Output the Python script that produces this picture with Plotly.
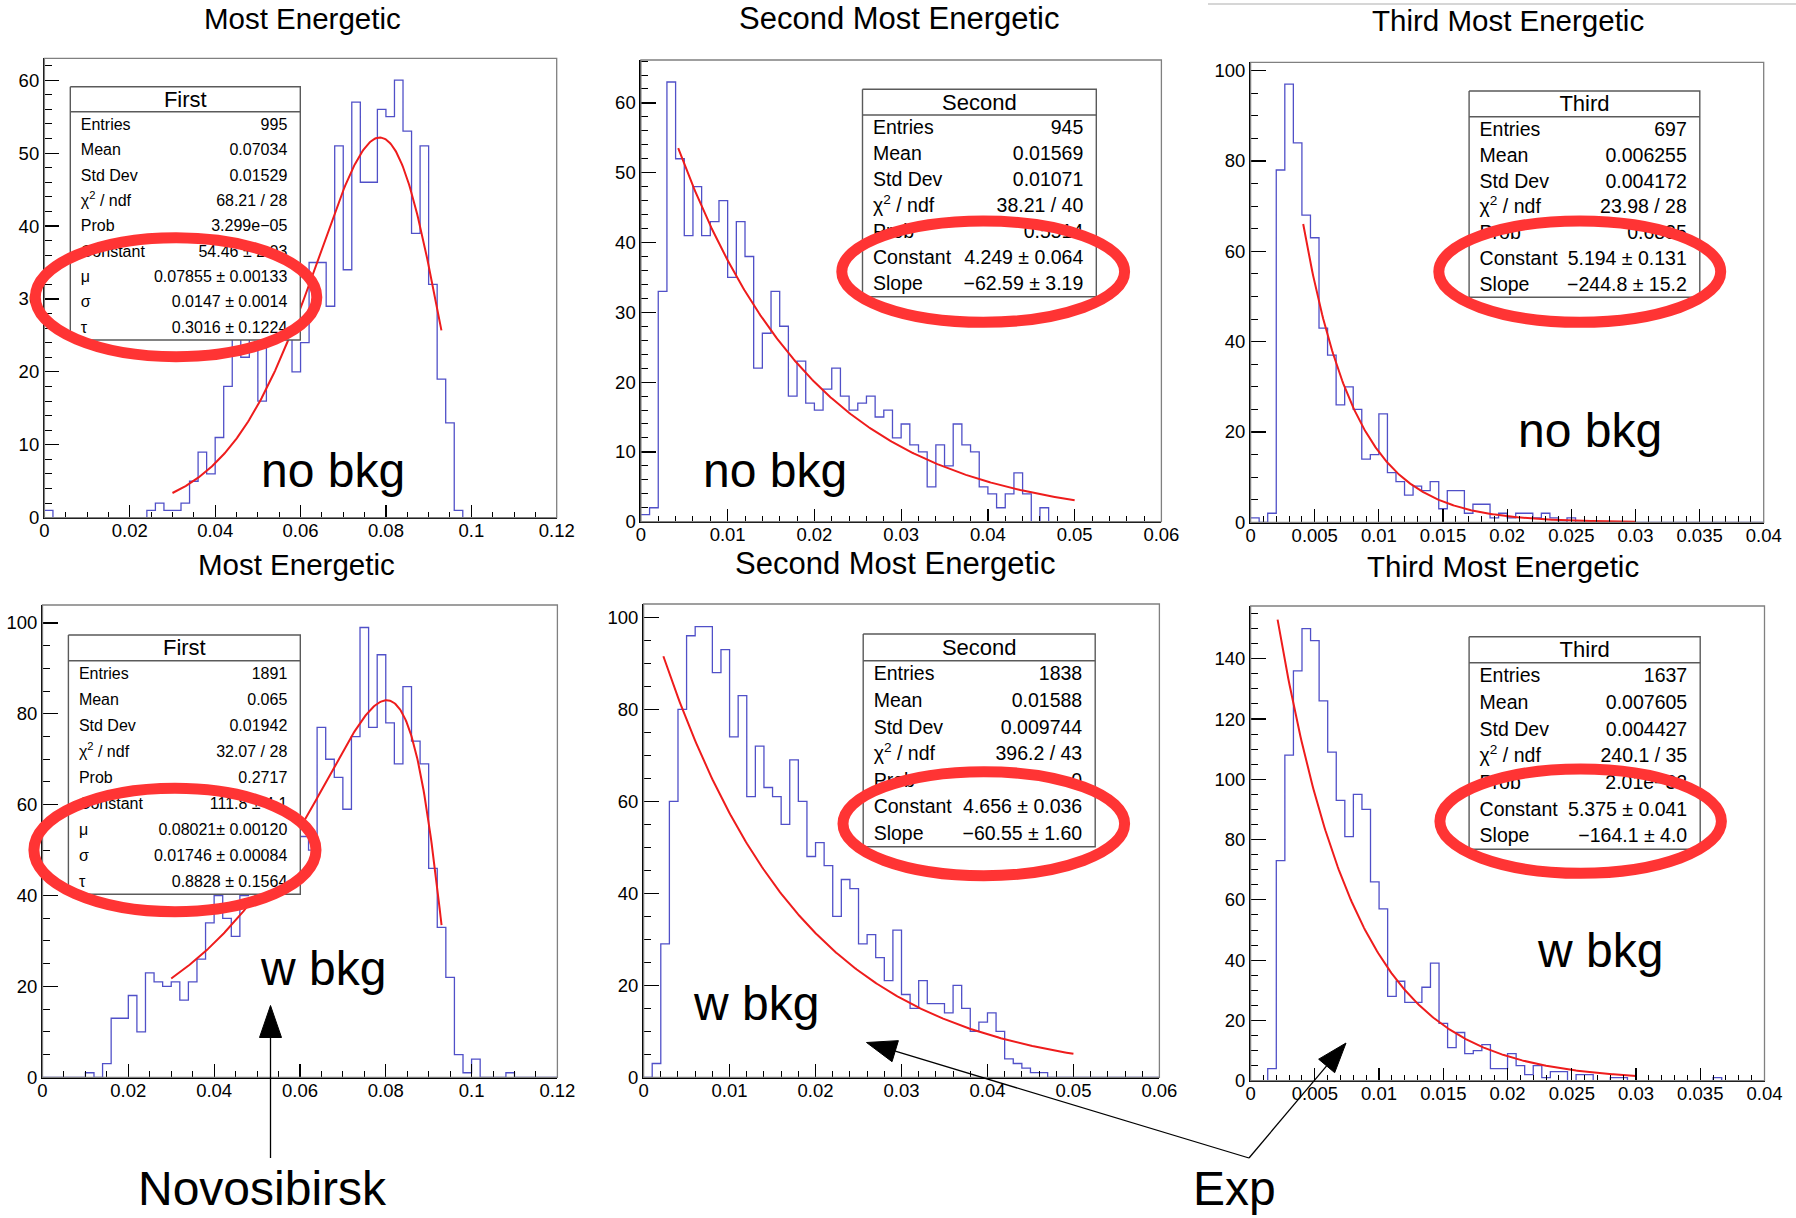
import numpy as np
import plotly.graph_objects as go

W, H = 1796, 1218
FONT = "Liberation Sans, Arial, Helvetica, sans-serif"

# ---------------- histogram contents (60 equal bins per histogram) ----------------
first_nobkg = [1, 0, 0, 0, 0, 0, 0, 0, 0, 0, 0, 0, 1, 2, 1, 1, 2, 5, 9, 6,
               11, 18, 26, 22, 27, 16, 31, 30, 30, 20, 24, 35, 35, 29, 51, 34, 57, 46, 46, 56,
               55, 60, 53, 39, 51, 32, 19, 13, 1, 0, 0, 0, 0, 0, 0, 0, 0, 0, 0, 0]
second_nobkg = [1, 2, 33, 63, 52, 41, 48, 41, 43, 46, 35, 43, 38, 22, 27, 33, 28, 18, 23, 17,
                16, 19, 22, 18, 16, 17, 18, 15, 16, 12, 14, 11, 10, 5, 11, 8, 14, 11, 10, 5,
                4, 2, 4, 7, 4, 0, 2, 0, 0, 0, 0, 0, 0, 0, 0, 0, 0, 0, 0, 0]
third_nobkg = [1, 0, 2, 78, 97, 84, 68, 63, 43, 37, 26, 30, 25, 14, 15, 24, 11, 9, 6, 8,
               7, 9, 3, 7, 7, 2, 4, 4, 1, 2, 1, 2, 2, 1, 2, 1, 0, 1, 0, 0,
               0, 0, 0, 0, 0, 0, 0, 0, 0, 0, 0, 0, 0, 0, 0, 0, 0, 0, 0, 0]
first_wbkg = [0, 0, 0, 0, 0, 1, 0, 3, 13, 13, 18, 10, 23, 21, 20, 21, 17, 21, 26, 34,
              40, 35, 31, 40, 44, 47, 50, 48, 55, 53, 53, 50, 77, 70, 66, 59, 75, 99, 77, 93,
              78, 69, 86, 74, 69, 46, 33, 22, 5, 1, 4, 0, 0, 0, 1, 0, 0, 0, 0, 0]
second_wbkg = [0, 3, 29, 60, 80, 96, 98, 98, 88, 93, 74, 83, 61, 72, 63, 61, 55, 69, 60, 48,
               51, 46, 35, 43, 41, 29, 31, 26, 21, 32, 18, 15, 21, 16, 16, 14, 20, 15, 10, 12,
               14, 10, 4, 3, 2, 1, 1, 0, 0, 0, 0, 0, 0, 0, 0, 0, 0, 0, 0, 0]
third_wbkg = [0, 0, 4, 73, 108, 136, 150, 146, 126, 109, 93, 81, 95, 90, 66, 57, 28, 33, 26, 26,
              31, 39, 19, 11, 16, 9, 10, 12, 4, 4, 9, 5, 2, 5, 1, 3, 3, 0, 2, 2,
              0, 0, 1, 1, 0, 0, 0, 0, 0, 0, 0, 0, 0, 0, 1, 0, 0, 0, 0, 0]

# ---------------- fit results (as printed in the stat boxes) ----------------
nov_nobkg = [54.46, 0.07855, 0.0147, 0.3016]     # Constant, mu, sigma, tau
nov_wbkg = [111.8, 0.08021, 0.01746, 0.8828]
exp_second_nobkg = [4.249, -62.59]                # Constant, Slope
exp_third_nobkg = [5.194, -244.8]
exp_second_wbkg = [4.656, -60.55]
exp_third_wbkg = [5.375, -164.1]

fit_range_first = [0.03, 0.093]
fit_range_second_nobkg = [0.0043, 0.05]
fit_range_third_nobkg = [0.0041, 0.03]
fit_range_second_wbkg = [0.0023, 0.05]
fit_range_third_wbkg = [0.0021, 0.03]

# ---------------- stat box texts ----------------
labels_nov = ["Entries", "Mean", "Std Dev", "\u03c7<sup>2</sup> / ndf", "Prob",
              "Constant", "\u03bc", "\u03c3", "\u03c4"]
labels_exp = ["Entries", "Mean", "Std Dev", "\u03c7<sup>2</sup> / ndf", "Prob",
              "Constant", "Slope"]
stats_first_nobkg = ["995", "0.07034", "0.01529", "68.21 / 28", "3.299e\u221205",
                     "54.46 \u00b1 2.03", "0.07855 \u00b1 0.00133", "0.0147 \u00b1 0.0014",
                     "0.3016 \u00b1 0.1224"]
stats_second_nobkg = ["945", "0.01569", "0.01071", "38.21 / 40", "0.5514",
                      "4.249 \u00b1 0.064", "\u221262.59 \u00b1 3.19"]
stats_third_nobkg = ["697", "0.006255", "0.004172", "23.98 / 28", "0.6835",
                     "5.194 \u00b1 0.131", "\u2212244.8 \u00b1 15.2"]
stats_first_wbkg = ["1891", "0.065", "0.01942", "32.07 / 28", "0.2717",
                    "111.8 \u00b1 4.1", "0.08021\u00b1 0.00120", "0.01746 \u00b1 0.00084",
                    "0.8828 \u00b1 0.1564"]
stats_second_wbkg = ["1838", "0.01588", "0.009744", "396.2 / 43", "0",
                     "4.656 \u00b1 0.036", "\u221260.55 \u00b1 1.60"]
stats_third_wbkg = ["1637", "0.007605", "0.004427", "240.1 / 35", "2.01e\u221232",
                    "5.375 \u00b1 0.041", "\u2212164.1 \u00b1 4.0"]

titles = ["Most Energetic", "Second Most Energetic", "Third Most Energetic"]
box_names = ["First", "Second", "Third"]
tags = ["no bkg", "w bkg"]


def novosibirsk(x, norm, peak, width, eta):
    xi = 2.0 * np.sqrt(np.log(4.0))
    w0 = (2.0 / xi) * np.arcsinh(eta * xi * 0.5)
    arg = 1.0 - (x - peak) * eta / width
    lg = np.log(arg)
    return norm * np.exp(-0.5 * lg * lg / (w0 * w0) - 0.5 * w0 * w0)


def expo(x, c, s):
    return np.exp(c + s * x)


# ---------------- panel layout (pixel frame of each plot area) ----------------
panels = [
    dict(counts=first_nobkg, xmax=0.12, dx=0.02, mdx=0.005, dy=10, mdy=2,
         fx=(44.4, 556.7), fy=(58.3, 517.7),
         fit=("nov", nov_nobkg, fit_range_first),
         box=dict(L=70.3, R=300.3, T=86.7, Hd=111.7, B=340.0), name=box_names[0],
         labels=labels_nov, stats=stats_first_nobkg, fs=16,
         ell=(35.3, 316.8, 237.7, 356.7),
         title=(titles[0], 302, 18, 29.5), tag=(tags[0], 333, 470)),
    dict(counts=second_nobkg, xmax=0.06, dx=0.01, mdx=0.002, dy=10, mdy=2,
         fx=(640.9, 1161.4), fy=(60.0, 521.7),
         fit=("exp", exp_second_nobkg, fit_range_second_nobkg),
         box=dict(L=862.5, R=1096.3, T=89.3, Hd=115.0, B=296.7), name=box_names[1],
         labels=labels_exp, stats=stats_second_nobkg, fs=19.5,
         ell=(841.8, 1124.6, 221.0, 322.3),
         title=(titles[1], 899, 18, 31), tag=(tags[0], 775, 470)),
    dict(counts=third_nobkg, xmax=0.04, dx=0.005, mdx=0.001, dy=20, mdy=5,
         fx=(1250.6, 1763.7), fy=(62.3, 522.3),
         fit=("exp", exp_third_nobkg, fit_range_third_nobkg),
         box=dict(L=1469.1, R=1699.8, T=91.0, Hd=116.7, B=297.3), name=box_names[2],
         labels=labels_exp, stats=stats_third_nobkg, fs=19.5,
         ell=(1438.8, 1720.7, 221.0, 322.3),
         title=(titles[2], 1508, 20, 29.5), tag=(tags[0], 1590, 430)),
    dict(counts=first_wbkg, xmax=0.12, dx=0.02, mdx=0.005, dy=20, mdy=5,
         fx=(42.5, 557.4), fy=(605.0, 1077.3),
         fit=("nov", nov_wbkg, fit_range_first),
         box=dict(L=68.4, R=300.3, T=635.0, Hd=660.7, B=894.3), name=box_names[0],
         labels=labels_nov, stats=stats_first_wbkg, fs=16,
         ell=(33.9, 316.0, 788.3, 911.7),
         title=(titles[0], 296, 564, 29.5), tag=(tags[1], 323, 968)),
    dict(counts=second_wbkg, xmax=0.06, dx=0.01, mdx=0.002, dy=20, mdy=5,
         fx=(643.6, 1159.4), fy=(604.0, 1077.3),
         fit=("exp", exp_second_wbkg, fit_range_second_wbkg),
         box=dict(L=863.2, R=1095.2, T=634.0, Hd=660.7, B=846.7), name=box_names[1],
         labels=labels_exp, stats=stats_second_wbkg, fs=19.5,
         ell=(843.0, 1124.6, 771.7, 875.7),
         title=(titles[1], 895, 563, 31), tag=(tags[1], 756, 1003)),
    dict(counts=third_wbkg, xmax=0.04, dx=0.005, mdx=0.001, dy=20, mdy=5,
         fx=(1250.6, 1764.5), fy=(606.0, 1080.7),
         fit=("exp", exp_third_wbkg, fit_range_third_wbkg),
         box=dict(L=1469.1, R=1700.2, T=636.7, Hd=662.7, B=849.3), name=box_names[2],
         labels=labels_exp, stats=stats_third_wbkg, fs=19.5,
         ell=(1439.9, 1721.4, 769.0, 873.3),
         title=(titles[2], 1503, 566, 29.5), tag=(tags[1], 1600, 950)),
]

HIST_COLOR = "#5050c8"
FIT_COLOR = "#ee1c1c"
RING_COLOR = "#ff3434"

fig = go.Figure()
layout = dict(width=W, height=H, margin=dict(l=0, r=0, t=0, b=0, pad=0, autoexpand=False),
              paper_bgcolor="white", plot_bgcolor="rgba(0,0,0,0)", showlegend=False)
shapes = []
annotations = []

for k, p in enumerate(panels, start=1):
    xa = "x" if k == 1 else f"x{k}"
    ya = "y" if k == 1 else f"y{k}"
    counts = np.array(p["counts"], dtype=float)
    nb = len(counts)
    edges = np.linspace(0.0, p["xmax"], nb + 1)
    ys = np.append(counts, counts[-1])
    fig.add_trace(go.Scatter(x=edges, y=ys, mode="lines", line_shape="hv",
                             line=dict(color=HIST_COLOR, width=1.3),
                             xaxis=xa, yaxis=ya, hoverinfo="skip"))
    kind, pars, rng = p["fit"]
    xf = np.linspace(rng[0], rng[1], 300)
    yf = novosibirsk(xf, *pars) if kind == "nov" else expo(xf, *pars)
    fig.add_trace(go.Scatter(x=xf, y=yf, mode="lines",
                             line=dict(color=FIT_COLOR, width=2),
                             xaxis=xa, yaxis=ya, hoverinfo="skip"))

    ymax = 1.05 * counts.max()
    axis_common = dict(showgrid=False, zeroline=False, showline=True, linecolor="black",
                       linewidth=1.5, ticks="inside", tickcolor="black", automargin=False,
                       tickfont=dict(family=FONT, size=18.5, color="black"),
                       fixedrange=True)
    layout["xaxis" if k == 1 else f"xaxis{k}"] = dict(
        axis_common, domain=[p["fx"][0] / W, p["fx"][1] / W], range=[0, p["xmax"]],
        anchor=ya, tick0=0, dtick=p["dx"], ticklen=13, tickwidth=1.2,
        ticklabelstandoff=-4,
        minor=dict(dtick=p["mdx"], tick0=0, ticks="inside", ticklen=6,
                   tickcolor="black", tickwidth=1))
    layout["yaxis" if k == 1 else f"yaxis{k}"] = dict(
        axis_common, domain=[1 - p["fy"][1] / H, 1 - p["fy"][0] / H], range=[0, ymax],
        anchor=xa, tick0=0, dtick=p["dy"], ticklen=15, tickwidth=1.2,
        minor=dict(dtick=p["mdy"], tick0=0, ticks="inside", ticklen=7.5,
                   tickcolor="black", tickwidth=1))
    # grey frame around the plot area
    shapes.append(dict(type="rect", xref=f"{xa} domain", yref=f"{ya} domain",
                       x0=0, x1=1, y0=0, y1=1, line=dict(color="#808080", width=1.3),
                       layer="above"))

# overlay subplot in page pixels for the stat boxes
layout["xaxis7"] = dict(domain=[0, 1], range=[0, W], visible=False, anchor="y7",
                        fixedrange=True, automargin=False)
layout["yaxis7"] = dict(domain=[0, 1], range=[H, 0], visible=False, anchor="x7",
                        fixedrange=True, automargin=False)

for p in panels:
    b = p["box"]
    fig.add_trace(go.Scatter(x=[b["L"], b["R"], b["R"], b["L"], b["L"]],
                             y=[b["T"], b["T"], b["B"], b["B"], b["T"]],
                             mode="lines", fill="toself", fillcolor="white",
                             line=dict(color="#5a5a5a", width=1.4),
                             xaxis="x7", yaxis="y7", hoverinfo="skip"))
    fig.add_trace(go.Scatter(x=[b["L"], b["R"]], y=[b["Hd"], b["Hd"]], mode="lines",
                             line=dict(color="#5a5a5a", width=1.4),
                             xaxis="x7", yaxis="y7", hoverinfo="skip"))
    fig.add_trace(go.Scatter(x=[(b["L"] + b["R"]) / 2], y=[(b["T"] + b["Hd"]) / 2 + 2],
                             mode="text", text=[p["name"]], textposition="middle center",
                             textfont=dict(family=FONT, size=22, color="black"),
                             xaxis="x7", yaxis="y7", hoverinfo="skip"))
    n = len(p["labels"])
    step = (b["B"] - b["Hd"]) / n
    rows = [b["Hd"] + step * (i + 0.5) + 1.5 for i in range(n)]
    fig.add_trace(go.Scatter(x=[b["L"] + 10.5] * n, y=rows, mode="text", text=p["labels"],
                             textposition="middle right",
                             textfont=dict(family=FONT, size=p["fs"], color="black"),
                             xaxis="x7", yaxis="y7", hoverinfo="skip"))
    fig.add_trace(go.Scatter(x=[b["R"] - 13] * n, y=rows, mode="text", text=p["stats"],
                             textposition="middle left",
                             textfont=dict(family=FONT, size=p["fs"], color="black"),
                             xaxis="x7", yaxis="y7", hoverinfo="skip"))
    # red ring drawn around the fit parameters
    x0, x1, y0, y1 = p["ell"]
    shapes.append(dict(type="circle", xref="x7", yref="y7", x0=x0, x1=x1, y0=y0, y1=y1,
                       line=dict(color=RING_COLOR, width=11), layer="above"))
    t, tx, ty, ts = p["title"]
    annotations.append(dict(text=t, x=tx, y=ty, xref="x7", yref="y7", showarrow=False,
                            xanchor="center", yanchor="middle",
                            font=dict(family=FONT, size=ts, color="black")))
    t, tx, ty = p["tag"]
    annotations.append(dict(text=t, x=tx, y=ty, xref="x7", yref="y7", showarrow=False,
                            xanchor="center", yanchor="middle",
                            font=dict(family=FONT, size=48, color="black")))

# arrows pointing from the fit-model names to the curves
arrows = [
    ((270.5, 1158.0), (270.5, 1005.5), 32, 22),
    ((1249.0, 1158.0), (866.5, 1042.5), 30, 22),
    ((1249.0, 1158.0), (1346.0, 1043.0), 30, 21),
]
for (tx0, ty0), (hx, hy), hl, hw in arrows:
    d = np.array([hx - tx0, hy - ty0])
    u = d / np.linalg.norm(d)
    nrm = np.array([-u[1], u[0]])
    base = np.array([hx, hy]) - u * hl
    a = base + nrm * hw / 2
    c = base - nrm * hw / 2
    shapes.append(dict(type="line", xref="x7", yref="y7", x0=tx0, y0=ty0,
                       x1=base[0], y1=base[1], line=dict(color="black", width=1.3),
                       layer="above"))
    shapes.append(dict(type="path", xref="x7", yref="y7",
                       path=f"M{hx},{hy} L{a[0]},{a[1]} L{c[0]},{c[1]} Z",
                       fillcolor="black", line=dict(color="black", width=1), layer="above"))

annotations.append(dict(text="Novosibirsk", x=262, y=1188, xref="x7", yref="y7",
                        showarrow=False, xanchor="center", yanchor="middle",
                        font=dict(family=FONT, size=48, color="black")))
annotations.append(dict(text="Exp", x=1234, y=1188, xref="x7", yref="y7",
                        showarrow=False, xanchor="center", yanchor="middle",
                        font=dict(family=FONT, size=48, color="black")))

# thin grey rule at the top right of the page
shapes.append(dict(type="line", xref="x7", yref="y7", x0=1208, x1=W, y0=4, y1=4,
                   line=dict(color="#d6d6d6", width=2), layer="above"))

layout["shapes"] = shapes
layout["annotations"] = annotations
fig.update_layout(**layout)

# keep the page exactly the size of the figure (no body margin, no scrollbars)
page_css = ("document.documentElement.style.margin='0';"
            "document.body.style.margin='0';document.body.style.padding='0';"
            "document.documentElement.style.overflow='hidden';"
            "document.body.style.overflow='hidden';")
fig.write_html("out.html", config=dict(displayModeBar=False, staticPlot=True,
                                       responsive=False),
               post_script=page_css)
